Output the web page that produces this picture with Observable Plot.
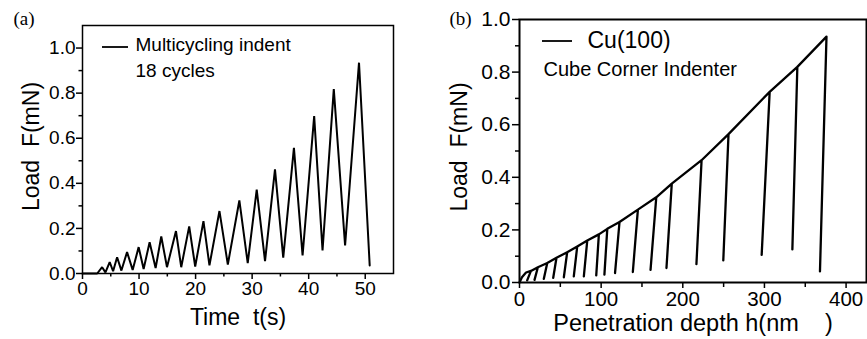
<!DOCTYPE html>
<html>
<head>
<meta charset="utf-8">
<script src="https://cdn.jsdelivr.net/npm/d3@7"></script>
<script src="https://cdn.jsdelivr.net/npm/@observablehq/plot@0.6"></script>
<style>
  html, body { margin: 0; padding: 0; background: #fff; }
  #wrap { position: relative; width: 867px; height: 339px; overflow: hidden; font-family: "Liberation Sans", Arial, sans-serif; }
  .panel { position: absolute; top: 0; }
</style>
</head>
<body>
<div id="wrap">
  <div id="pa" class="panel" style="left:0px"></div>
  <div id="pb" class="panel" style="left:430px"></div>
</div>
<script>
// ---------- Panel (a): multicycling indent, load vs time ----------
const aTime = [0, 2.6, 3.47, 4.06, 4.81, 5.41, 6.12, 6.88, 7.88, 8.87, 9.93, 10.81, 11.87, 12.93, 13.93, 14.94, 16.53, 17.46, 18.87, 19.93, 21.39, 22.45, 24.22, 25.7, 27.74, 29.22, 30.81, 32.28, 34.04, 35.5, 37.39, 38.92, 40.97, 42.45, 44.44, 46.44, 48.9, 50.79];
const aLoad = [0, 0, 0.028, 0.005, 0.05, 0.01, 0.072, 0.013, 0.095, 0.016, 0.117, 0.02, 0.139, 0.024, 0.164, 0.028, 0.188, 0.028, 0.209, 0.031, 0.232, 0.036, 0.277, 0.04, 0.324, 0.046, 0.372, 0.055, 0.462, 0.07, 0.557, 0.08, 0.698, 0.102, 0.818, 0.124, 0.935, 0.036];
const aXTicks = [0, 10, 20, 30, 40, 50];
const aXMinor = [5, 15, 25, 35, 45];
const aYTicks = [0, 0.2, 0.4, 0.6, 0.8, 1.0];
const aYMinor = [0.1, 0.3, 0.5, 0.7, 0.9];
const aLegend = ["Multicycling indent", "18 cycles"];

// ---------- Panel (b): Cu(100), load vs penetration depth ----------
const bStartDepth = [0, 3, 8];
const bStartLoad = [0, 0.02, 0.038];
const bTopDepth = [14, 22.5, 34, 45.3, 58.4, 70.7, 83, 97.2, 107.5, 122.5, 145, 167.5, 186.5, 223, 256, 306.4, 340.3, 376];
const bTopLoad = [0.044, 0.058, 0.074, 0.094, 0.115, 0.137, 0.16, 0.183, 0.204, 0.23, 0.277, 0.324, 0.376, 0.465, 0.564, 0.725, 0.82, 0.935];
const bBottomDepth = [9.4, 18.4, 29.8, 41.3, 54.3, 66.5, 78.8, 94, 104, 117, 138.8, 160.5, 180, 216.7, 249.6, 296.6, 334.2, 368];
const bBottomLoad = [0.008, 0.01, 0.014, 0.018, 0.02, 0.023, 0.023, 0.027, 0.03, 0.036, 0.04, 0.048, 0.055, 0.07, 0.084, 0.105, 0.126, 0.042];
const bXTicks = [0, 100, 200, 300, 400];
const bXMinor = [50, 150, 250, 350];
const bYTicks = [0, 0.2, 0.4, 0.6, 0.8, 1.0];
const bYMinor = [0.1, 0.3, 0.5, 0.7, 0.9];
const bLegend = ["Cu(100)", "Cube Corner Indenter"];

const NB = "\u00a0";
const fmt1 = d3.format(".1f");

// build tables
const aData = aTime.map((t, i) => ({t, F: aLoad[i]}));
const bData = bStartDepth.map((h, i) => ({h, F: bStartLoad[i]}));
bTopDepth.forEach((h, i) => {
  bData.push({h, F: bTopLoad[i]});
  bData.push({h: bBottomDepth[i], F: bBottomLoad[i]});
  if (i < bTopDepth.length - 1) bData.push({h, F: bTopLoad[i]});
});

const fontFamily = '"Liberation Sans", Arial, Helvetica, sans-serif';
const serif = '"Liberation Serif", "Times New Roman", serif';
const T = {lineAnchor: "middle"};

// Panel a
const plotA = Plot.plot({
  width: 420, height: 339,
  marginLeft: 82, marginRight: 27, marginTop: 25, marginBottom: 66,
  style: {fontFamily, color: "black", background: "transparent", overflow: "visible"},
  x: {domain: [0, 55]},
  y: {domain: [0, 1.1]},
  marks: [
    Plot.line(aData, {x: "t", y: "F", stroke: "black", strokeWidth: 2, strokeLinejoin: "miter"}),
    Plot.axisX({ticks: aXTicks, tickSize: 6, tickPadding: 2, fontSize: 19, strokeWidth: 1.5, label: null}),
    Plot.axisX({ticks: aXMinor, tickSize: 3.5, strokeWidth: 1.5, tickFormat: () => "", label: null}),
    Plot.axisY({ticks: aYTicks, tickSize: 6, tickPadding: 1, fontSize: 19, strokeWidth: 1.5, tickFormat: fmt1, label: null}),
    Plot.axisY({ticks: aYMinor, tickSize: 3.5, strokeWidth: 1.5, tickFormat: () => "", label: null}),
    Plot.frame({stroke: "black", strokeWidth: 1.5}),
    Plot.text(["Time" + NB + NB + "t(s)"], {...T, frameAnchor: "bottom", textAnchor: "middle", dy: 44.6, fontSize: 23}),
    Plot.text(["Load" + NB + NB + "F(mN)"], {...T, frameAnchor: "left", textAnchor: "middle", dx: -51, dy: -3, rotate: -90, fontSize: 23}),
    Plot.text([aLegend[0]], {...T, frameAnchor: "top-left", textAnchor: "start", dx: 53, dy: 19.1, fontSize: 19}),
    Plot.text([aLegend[1]], {...T, frameAnchor: "top-left", textAnchor: "start", dx: 53, dy: 45.1, fontSize: 19}),
    Plot.text(["(a)"], {...T, frameAnchor: "top-left", textAnchor: "start", dx: -69, dy: -6.1, fontSize: 19, fontFamily: serif})
  ]
});
document.getElementById("pa").appendChild(plotA);
// legend sample line (a)
d3.select(plotA).append("line")
  .attr("x1", 102).attr("x2", 128).attr("y1", 47).attr("y2", 47)
  .attr("stroke", "black").attr("stroke-width", 1.8);

// Panel b
const plotB = Plot.plot({
  width: 437, height: 339,
  marginLeft: 89, marginRight: 1, marginTop: 19, marginBottom: 57,
  style: {fontFamily, color: "black", background: "transparent", overflow: "visible"},
  x: {domain: [0, 425]},
  y: {domain: [0, 1.0]},
  marks: [
    Plot.line(bData, {x: "h", y: "F", stroke: "black", strokeWidth: 2.3, strokeLinejoin: "round"}),
    Plot.axisX({ticks: bXTicks, tickSize: 6, tickPadding: 3, fontSize: 20.5, strokeWidth: 1.5, label: null}),
    Plot.axisX({ticks: bXMinor, tickSize: 5, strokeWidth: 1.5, tickFormat: () => "", label: null}),
    Plot.axisY({ticks: bYTicks, tickSize: 7, tickPadding: 2, fontSize: 21, strokeWidth: 1.5, tickFormat: fmt1, label: null}),
    Plot.axisY({ticks: bYMinor, tickSize: 4, strokeWidth: 1.5, tickFormat: () => "", label: null}),
    Plot.frame({stroke: "black", strokeWidth: 2}),
    Plot.text(["Penetration depth h(nm" + NB + NB + NB + NB + ")"], {...T, frameAnchor: "bottom", textAnchor: "middle", dy: 41, fontSize: 23.5}),
    Plot.text(["Load" + NB + NB + "F(mN)"], {...T, frameAnchor: "left", textAnchor: "middle", dx: -60, dy: -4, rotate: -90, fontSize: 23}),
    Plot.text([bLegend[0]], {...T, frameAnchor: "top-left", textAnchor: "start", dx: 68, dy: 21.6, fontSize: 23}),
    Plot.text([bLegend[1]], {...T, frameAnchor: "top-left", textAnchor: "start", dx: 24, dy: 49.6, fontSize: 20}),
    Plot.text(["(b)"], {...T, frameAnchor: "top-left", textAnchor: "start", dx: -70, dy: -0.1, fontSize: 19, fontFamily: serif})
  ]
});
document.getElementById("pb").appendChild(plotB);
d3.select(plotB).append("line")
  .attr("x1", 112).attr("x2", 142).attr("y1", 41).attr("y2", 41)
  .attr("stroke", "black").attr("stroke-width", 1.8);
</script>
</body>
</html>
